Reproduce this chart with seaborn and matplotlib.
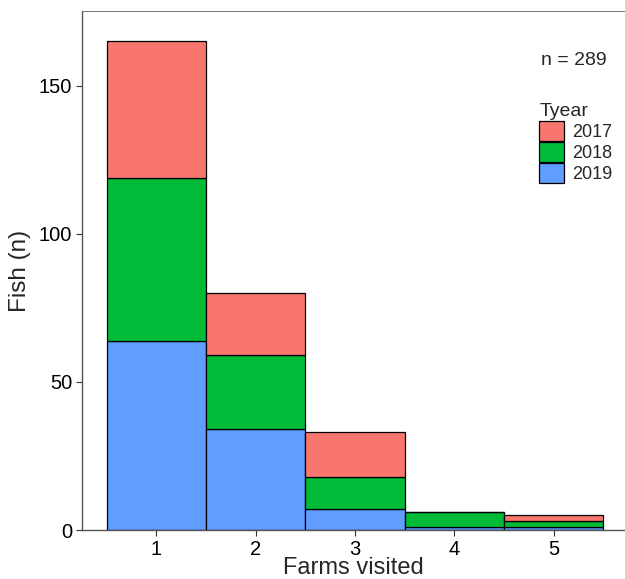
import pandas as pd
import matplotlib.pyplot as plt
import matplotlib.patches as mpatches
import seaborn as sns

# values
farms = [1, 2, 3, 4, 5]
fish_2017 = [46, 21, 15, 0, 2]
fish_2018 = [55, 25, 11, 5, 2]
fish_2019 = [64, 34, 7, 1, 1]
years = ['2017', '2018', '2019']
colors = ['#F8766D', '#00BA38', '#619CFF']

rows = []
for year, counts in zip(years, [fish_2017, fish_2018, fish_2019]):
    for f, c in zip(farms, counts):
        rows.append({'farms': f, 'Tyear': year, 'n': c})
df = pd.DataFrame(rows)
total = int(df['n'].sum())

sns.set_theme(style='white')
plt.rcParams['font.family'] = ['Liberation Sans', 'DejaVu Sans']

fig = plt.figure(figsize=(6.25, 5.79), dpi=100)
ax = fig.add_axes([82 / 625, 49 / 579, 543 / 625, 519 / 579])

sns.histplot(data=df, x='farms', weights='n', hue='Tyear', hue_order=years,
             palette=colors, multiple='stack', discrete=True, shrink=1,
             edgecolor='black', linewidth=0.9, alpha=1, legend=False, ax=ax)

ax.set_xlim(0.25, 5.72)
ax.set_ylim(0, 175.3)
ax.set_xticks(farms)
ax.set_yticks([0, 50, 100, 150])
ax.tick_params(axis='both', labelsize=14.5, length=4, width=0.8, colors='#333333',
               labelcolor='black', direction='out', bottom=True, left=True, pad=3)
ax.set_xlabel('Farms visited', fontsize=17, labelpad=-1)
ax.set_ylabel('Fish (n)', fontsize=17.5, labelpad=6)
ax.spines['right'].set_visible(False)
ax.spines['left'].set_color('#555555')
ax.spines['bottom'].set_color('#555555')
ax.spines['top'].set_color('#777777')
for side in ['left', 'bottom']:
    ax.spines[side].set_linewidth(1.0)
ax.spines['top'].set_linewidth(0.7)

ax.text(0.845, 0.905, f'n = {total}', transform=ax.transAxes, fontsize=14,
        ha='left', va='center')

handles = [mpatches.Patch(facecolor=c, edgecolor='black', linewidth=0.9, label=y)
           for y, c in zip(years, colors)]
leg = ax.legend(handles=handles, title='Tyear', loc='upper left',
                bbox_to_anchor=(0.842, 0.823), frameon=False, fontsize=13,
                title_fontsize=14, handlelength=1.35, handleheight=1.35,
                handletextpad=0.45, labelspacing=0.05, borderaxespad=0,
                borderpad=0)
leg._legend_box.align = 'left'

fig.savefig('out.png', dpi=100)
